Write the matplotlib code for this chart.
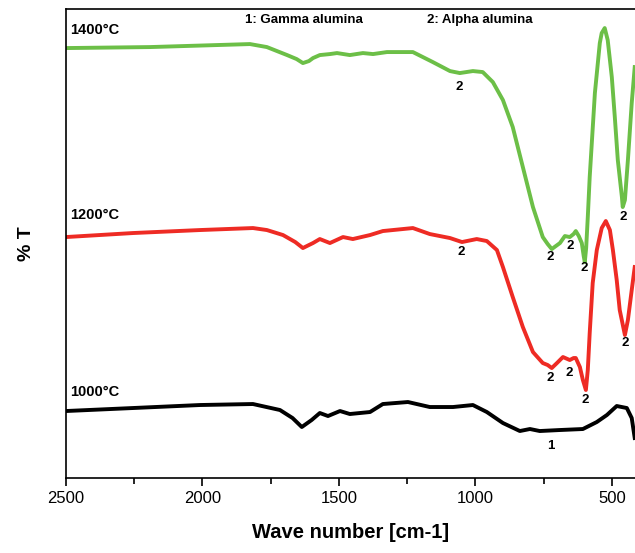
import matplotlib
matplotlib.use("Agg")
import matplotlib.pyplot as plt

plt.rcParams['font.family'] = ['Liberation Sans', 'DejaVu Sans']

# wave numbers (cm-1) and % T readings (arbitrary offset units) for each sample
wn_1400 = [2500, 2192, 1826, 1764, 1690, 1655, 1632, 1610, 1595, 1570, 1533, 1507,
           1460, 1412, 1375, 1324, 1229, 1156, 1093, 1057, 1009, 973, 936, 899,
           863, 826, 789, 753, 735, 720, 705, 690, 672, 654, 640, 632, 621, 610,
           603, 599, 594, 588, 581, 562, 544, 537, 526, 515, 500, 489, 478, 463,
           460, 452, 441, 427, 416]
t_1400 = [430, 431, 434, 431, 423, 419, 415, 417, 420, 423, 424, 425,
          423, 425, 424, 426, 426, 416, 407, 405, 407, 406, 396, 378,
          351, 311, 271, 241, 234, 229, 232, 235, 242, 241, 244, 247, 242, 235,
          222, 216, 230, 261, 301, 385, 435, 445, 450, 438, 401, 361, 318, 281,
          271, 278, 318, 375, 411]

wn_1200 = [2500, 2255, 2009, 1815, 1764, 1705, 1660, 1632, 1610, 1595, 1570, 1533,
           1485, 1449, 1386, 1339, 1229, 1167, 1093, 1049, 995, 958, 921, 899,
           863, 826, 789, 753, 735, 720, 701, 679, 654, 640, 632, 617, 606, 595,
           588, 581, 570, 555, 537, 522, 507, 496, 482, 471, 452, 441, 427, 416]
t_1200 = [241, 245, 248, 250, 248, 243, 236, 230, 233, 235, 239, 235,
          241, 239, 243, 247, 250, 244, 240, 236, 239, 237, 228, 211,
          181, 151, 126, 115, 113, 110, 115, 121, 118, 120, 120, 111, 98, 88,
          108, 145, 195, 228, 250, 257, 248, 228, 198, 168, 143, 158, 188, 211]

wn_1000 = [2500, 2009, 1815, 1716, 1670, 1636, 1600, 1570, 1540, 1496, 1460, 1386,
           1339, 1247, 1167, 1082, 1009, 958, 899, 837, 800, 764, 690, 606,
           555, 518, 482, 445, 427, 416]
t_1000 = [67, 73, 74, 68, 60, 51, 58, 65, 62, 67, 64, 66,
          74, 76, 71, 71, 73, 66, 55, 47, 49, 47, 48, 49,
          56, 63, 72, 70, 60, 40]

# peak assignments: (wave number, % T, label)
marks_1400 = [(1060, 391, '2'), (727, 221, '2'), (654, 232, '2'), (603, 210, '2'), (460, 261, '2')]
marks_1200 = [(1053, 226, '2'), (727, 100, '2'), (657, 105, '2'), (599, 78, '2'), (452, 135, '2')]
marks_1000 = [(723, 32, '1')]

fig = plt.figure(figsize=(6.35, 5.53), dpi=100)
ax = fig.add_axes([0.104, 0.1356, 0.896, 0.848])

ax.plot(wn_1400, t_1400, color='#6cbf47', lw=2.8, solid_joinstyle='round')
ax.plot(wn_1200, t_1200, color='#ee2b24', lw=2.8, solid_joinstyle='round')
ax.plot(wn_1000, t_1000, color='black', lw=2.8, solid_joinstyle='round')

for marks in (marks_1400, marks_1200, marks_1000):
    for w, t, s in marks:
        ax.text(w, t, s, fontsize=9.5, fontweight='bold', ha='center', va='center')

ax.text(2485, 448, '1400\u00b0C', fontsize=10.5, fontweight='bold', va='center')
ax.text(2485, 263, '1200\u00b0C', fontsize=10.5, fontweight='bold', va='center')
ax.text(2485, 86, '1000\u00b0C', fontsize=10.5, fontweight='bold', va='center')
ax.text(1628, 458, '1: Gamma alumina', fontsize=9.5, fontweight='bold', ha='center', va='center')
ax.text(984, 458, '2: Alpha alumina', fontsize=9.5, fontweight='bold', ha='center', va='center')

ax.set_xlim(2500, 415)
ax.set_ylim(0, 469)
ax.set_xticks([2500, 2000, 1500, 1000, 500])
ax.set_xticks([2250, 1750, 1250, 750], minor=True)
ax.set_yticks([])
ax.tick_params(axis='x', which='major', labelsize=12, length=6, width=1.2, direction='out')
ax.tick_params(axis='x', which='minor', length=4, width=1.2, direction='out')
ax.spines['right'].set_visible(False)
for side in ('left', 'top', 'bottom'):
    ax.spines[side].set_linewidth(1.2)

ax.set_xlabel('Wave number [cm-1]', fontsize=14.5, fontweight='bold', labelpad=12)
ax.set_ylabel('% T', fontsize=14, fontweight='bold', labelpad=22)

fig.savefig('out.png', dpi=100)
